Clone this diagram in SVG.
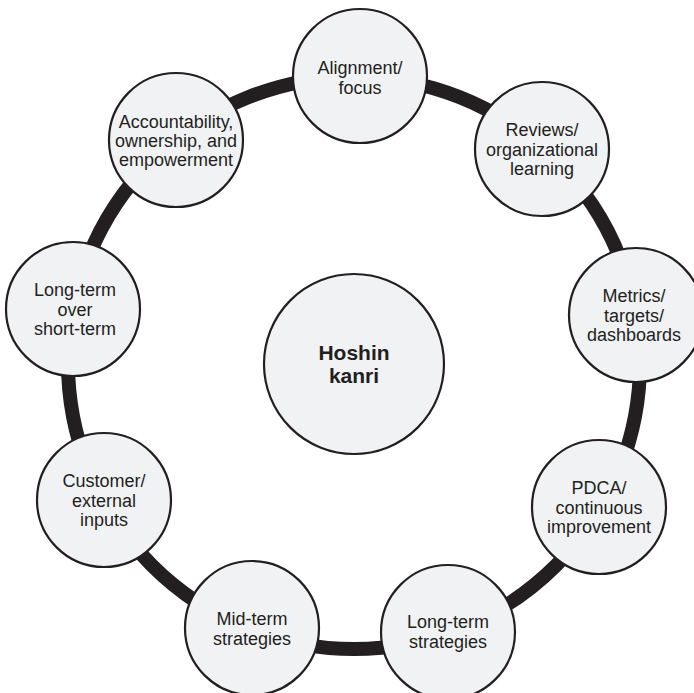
<svg xmlns="http://www.w3.org/2000/svg" width="694" height="693" viewBox="0 0 694 693">
  <style>
    .ring { fill: none; stroke: #231f20; stroke-width: 14; }
    .node circle { fill: #f1f2f4; stroke: #231f20; stroke-width: 2.2; }
    .node text { font-family: "Liberation Sans", Arial, Helvetica, sans-serif; font-size: 18px; fill: #231f20; text-anchor: middle; }
    .hub circle { fill: #f1f2f4; stroke: #231f20; stroke-width: 2.2; }
    .hub text { font-family: "Liberation Sans", Arial, Helvetica, sans-serif; font-size: 21px; font-weight: bold; fill: #231f20; text-anchor: middle; }
  </style>
  <rect width="694" height="693" fill="#ffffff"/>

  <!-- thick ring linking the outer nodes -->
  <g id="connectors">
    <circle class="ring" cx="354" cy="363" r="286"/>
  </g>

  <g id="hub" class="hub">
    <circle cx="354" cy="364" r="90"/>
    <text x="354" y="360">Hoshin</text>
    <text x="354" y="383">kanri</text>
  </g>

  <g id="alignment" class="node">
    <circle cx="360" cy="76" r="67"/>
    <text x="360" y="74">Alignment/</text>
    <text x="360" y="94">focus</text>
  </g>

  <g id="reviews" class="node">
    <circle cx="542" cy="149" r="67"/>
    <text x="542" y="136">Reviews/</text>
    <text x="542" y="156">organizational</text>
    <text x="542" y="175">learning</text>
  </g>

  <g id="metrics" class="node">
    <circle cx="636" cy="315" r="67"/>
    <text x="634" y="302">Metrics/</text>
    <text x="634" y="322">targets/</text>
    <text x="634" y="341">dashboards</text>
  </g>

  <g id="pdca" class="node">
    <circle cx="599" cy="507" r="67"/>
    <text x="599" y="494">PDCA/</text>
    <text x="599" y="514">continuous</text>
    <text x="599" y="533">improvement</text>
  </g>

  <g id="long-term-strategies" class="node">
    <circle cx="448" cy="632" r="67"/>
    <text x="448" y="628">Long-term</text>
    <text x="448" y="648">strategies</text>
  </g>

  <g id="mid-term-strategies" class="node">
    <circle cx="252" cy="628" r="67"/>
    <text x="252" y="625">Mid-term</text>
    <text x="252" y="645">strategies</text>
  </g>

  <g id="customer" class="node">
    <circle cx="104" cy="500" r="67"/>
    <text x="104" y="487">Customer/</text>
    <text x="104" y="507">external</text>
    <text x="104" y="526">inputs</text>
  </g>

  <g id="long-term-over" class="node">
    <circle cx="73" cy="309" r="67"/>
    <text x="75" y="296">Long-term</text>
    <text x="75" y="316">over</text>
    <text x="75" y="335">short-term</text>
  </g>

  <g id="accountability" class="node">
    <circle cx="176" cy="140" r="67"/>
    <text x="176" y="128">Accountability,</text>
    <text x="176" y="147">ownership, and</text>
    <text x="176" y="166">empowerment</text>
  </g>
</svg>
